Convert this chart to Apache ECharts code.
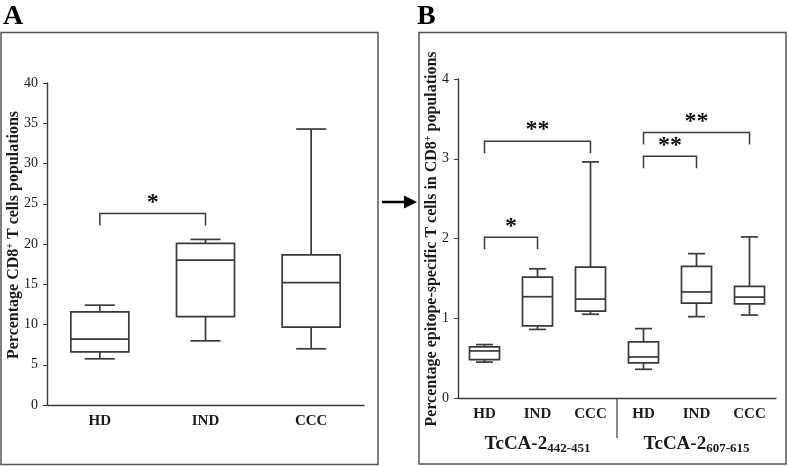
<!DOCTYPE html>
<html>
<head>
<meta charset="utf-8">
<script src="https://cdn.jsdelivr.net/npm/echarts@6/dist/echarts.min.js"></script>
<style>html,body{margin:0;padding:0;background:#fff}#c{width:788px;height:466px}</style>
</head>
<body>
<div id="c"></div>
<script>
// ---- Data ----
const catsA = ['HD', 'IND', 'CCC'];
// [min, Q1, median, Q3, max]
const boxA = [
  [5.74, 6.6, 8.18, 11.56, 12.4],
  [7.97, 10.98, 18.0, 20.07, 20.57],
  [6.98, 9.67, 15.19, 18.66, 34.28]
];
const catsB = ['HD', 'IND', 'CCC', 'HD', 'IND', 'CCC'];
const boxB = [
  [0.45, 0.48, 0.59, 0.64, 0.67],
  [0.86, 0.905, 1.27, 1.515, 1.62],
  [1.05, 1.09, 1.24, 1.64, 2.96],
  [0.36, 0.44, 0.515, 0.705, 0.87],
  [1.02, 1.19, 1.33, 1.65, 1.81],
  [1.04, 1.18, 1.265, 1.40, 2.02]
];
const groupNames = ['TcCA-2', 'TcCA-2'];
const groupSubs = ['442-451', '607-615'];
// [fromCategory, toCategory, y, label]
const sigA = [[0, 1, 23.8, '*']];
const sigB = [
  [0, 1, 2.015, '*'],
  [0, 2, 3.22, '**'],
  [3, 4, 3.03, '**'],
  [3, 5, 3.33, '**']
];
const dividersB = [[2, 3]];
const titleA = ['Percentage CD8', '+', ' T cells populations'];
const titleB = ['Percentage epitope-specific T cells in CD8', '+', ' populations'];

// ---- Styles ----
const LINE = '#3a3a3a';
const TXT = '#1a1a1a';
const SERIF = '"Liberation Serif", "Times New Roman", serif';

function boxRender(boxW, capW) {
  return function (params, api) {
    const x = api.value(0);
    const pMin = api.coord([x, api.value(1)]);
    const pQ1 = api.coord([x, api.value(2)]);
    const pMed = api.coord([x, api.value(3)]);
    const pQ3 = api.coord([x, api.value(4)]);
    const pMax = api.coord([x, api.value(5)]);
    const cx = pMin[0];
    const ls = { stroke: LINE, lineWidth: 1.7, fill: null };
    return {
      type: 'group',
      children: [
        { type: 'line', shape: { x1: cx, y1: pMax[1], x2: cx, y2: pQ3[1] }, style: ls },
        { type: 'line', shape: { x1: cx, y1: pQ1[1], x2: cx, y2: pMin[1] }, style: ls },
        { type: 'line', shape: { x1: cx - capW / 2, y1: pMax[1], x2: cx + capW / 2, y2: pMax[1] }, style: ls },
        { type: 'line', shape: { x1: cx - capW / 2, y1: pMin[1], x2: cx + capW / 2, y2: pMin[1] }, style: ls },
        { type: 'rect', shape: { x: cx - boxW / 2, y: pQ3[1], width: boxW, height: pQ1[1] - pQ3[1] }, style: { stroke: LINE, lineWidth: 1.7, fill: '#fff' } },
        { type: 'line', shape: { x1: cx - boxW / 2, y1: pMed[1], x2: cx + boxW / 2, y2: pMed[1] }, style: ls }
      ]
    };
  };
}

function makeSig(data, leg, size, gap) {
  const labels = data.map(d => d[3]);
  return function (params, api) {
    const p1 = api.coord([api.value(0), api.value(2)]);
    const p2 = api.coord([api.value(1), api.value(2)]);
    const lbl = labels[params.dataIndex];
    return {
      type: 'group',
      children: [
        { type: 'polyline', shape: { points: [[p1[0], p1[1] + leg], [p1[0], p1[1]], [p2[0], p2[1]], [p2[0], p2[1] + leg]] }, style: { stroke: LINE, lineWidth: 1.5, fill: null } },
        { type: 'text', x: (p1[0] + p2[0]) / 2, y: p1[1] - gap, style: { text: lbl, font: 'bold ' + size + 'px ' + SERIF, fill: '#111', textAlign: 'center', align: 'center', textVerticalAlign: 'middle', verticalAlign: 'middle' } }
      ]
    };
  };
}

function dividerRender(params, api) {
  const a = api.coord([api.value(0), 0]);
  const b = api.coord([api.value(1), 0]);
  const x = (a[0] + b[0]) / 2;
  return { type: 'line', shape: { x1: x, y1: a[1], x2: x, y2: a[1] + 40 }, style: { stroke: LINE, lineWidth: 1.2 } };
}

const chart = echarts.init(document.getElementById('c'), null, { renderer: 'canvas' });

const yLabel = { fontFamily: SERIF, fontSize: 14, color: TXT, margin: 9 };
const xLabel = { fontFamily: SERIF, fontSize: 15, fontWeight: 'bold', color: TXT, margin: 9 };
const axisLine = { show: true, lineStyle: { color: LINE, width: 1.4 } };

const titleRich = {
  a: { fontFamily: SERIF, fontWeight: 'bold', fontSize: 16, fill: TXT },
  s: { fontFamily: SERIF, fontWeight: 'bold', fontSize: 10, verticalAlign: 'top', padding: [0, 0, 7, 0] }
};

chart.setOption({
  animation: false,
  grid: [
    { left: 47, top: 83, width: 317, height: 322 },
    { left: 458, top: 79, width: 318, height: 319 }
  ],
  xAxis: [
    { gridIndex: 0, type: 'category', data: catsA, axisLine: axisLine, axisTick: { alignWithLabel: true, length: 5, lineStyle: { color: LINE } }, axisLabel: xLabel, splitLine: { show: false } },
    { gridIndex: 1, type: 'category', data: catsB, axisLine: axisLine, axisTick: { alignWithLabel: true, length: 5, lineStyle: { color: LINE } }, axisLabel: xLabel, splitLine: { show: false } },
    { gridIndex: 1, type: 'category', data: groupNames.map((n, i) => i), position: 'bottom', axisLine: { show: false }, axisTick: { show: false },
      axisLabel: { margin: 37, formatter: (v, i) => '{m|' + groupNames[i] + '}{s|' + groupSubs[i] + '}',
        rich: {
          m: { fontFamily: SERIF, fontWeight: 'bold', fontSize: 19, color: TXT, verticalAlign: 'top', lineHeight: 20 },
          s: { fontFamily: SERIF, fontWeight: 'bold', fontSize: 13, color: TXT, verticalAlign: 'bottom', lineHeight: 14, padding: [13, 0, 0, 0] }
        } } }
  ],
  yAxis: [
    { gridIndex: 0, type: 'value', min: 0, max: 40, interval: 5, axisLine: axisLine, axisTick: { show: true, length: 4, lineStyle: { color: LINE } }, axisLabel: yLabel, splitLine: { show: false } },
    { gridIndex: 1, type: 'value', min: 0, max: 4, interval: 1, axisLine: axisLine, axisTick: { show: true, length: 4, lineStyle: { color: LINE } }, axisLabel: yLabel, splitLine: { show: false } }
  ],
  series: [
    { type: 'custom', xAxisIndex: 0, yAxisIndex: 0, renderItem: boxRender(58, 30), data: boxA.map((b, i) => [i].concat(b)), encode: { x: 0, y: [1, 2, 3, 4, 5] }, clip: false },
    { type: 'custom', xAxisIndex: 1, yAxisIndex: 1, renderItem: boxRender(30, 17), data: boxB.map((b, i) => [i].concat(b)), encode: { x: 0, y: [1, 2, 3, 4, 5] }, clip: false },
    { type: 'custom', xAxisIndex: 0, yAxisIndex: 0, renderItem: makeSig(sigA, 12, 24, 11), data: sigA.map(d => [d[0], d[1], d[2]]), encode: { x: [0, 1], y: 2 }, clip: false },
    { type: 'custom', xAxisIndex: 1, yAxisIndex: 1, renderItem: makeSig(sigB, 12, 24, 11), data: sigB.map(d => [d[0], d[1], d[2]]), encode: { x: [0, 1], y: 2 }, clip: false },
    { type: 'custom', xAxisIndex: 1, yAxisIndex: 1, renderItem: dividerRender, data: dividersB, encode: { x: [0, 1] }, clip: false }
  ],
  graphic: [
    { type: 'rect', shape: { x: 1, y: 32.5, width: 377, height: 432 }, style: { fill: null, stroke: '#555', lineWidth: 1.5 }, z: 0 },
    { type: 'rect', shape: { x: 419, y: 32.5, width: 367, height: 431.5 }, style: { fill: null, stroke: '#555', lineWidth: 1.5 }, z: 0 },
    { type: 'text', x: 3, y: 17, style: { text: 'A', font: 'bold 28px ' + SERIF, fill: '#000', verticalAlign: 'middle', textVerticalAlign: 'middle' } },
    { type: 'text', x: 417, y: 17, style: { text: 'B', font: 'bold 28px ' + SERIF, fill: '#000', verticalAlign: 'middle', textVerticalAlign: 'middle' } },
    { type: 'line', shape: { x1: 382, y1: 202, x2: 407, y2: 202 }, style: { stroke: '#000', lineWidth: 2.5 } },
    { type: 'polygon', shape: { points: [[404, 195.5], [417, 202], [404, 208.5]] }, style: { fill: '#000' } },
    { type: 'text', x: 14, y: 235, rotation: Math.PI / 2,
      style: { text: '{a|' + titleA[0] + '}{s|' + titleA[1] + '}{a|' + titleA[2] + '}', rich: titleRich, fill: TXT, align: 'center', verticalAlign: 'middle', textAlign: 'center', textVerticalAlign: 'middle' } },
    { type: 'text', x: 432, y: 239, rotation: Math.PI / 2,
      style: { text: '{a|' + titleB[0] + '}{s|' + titleB[1] + '}{a|' + titleB[2] + '}', rich: titleRich, fill: TXT, align: 'center', verticalAlign: 'middle', textAlign: 'center', textVerticalAlign: 'middle' } }
  ]
});
</script>
</body>
</html>
